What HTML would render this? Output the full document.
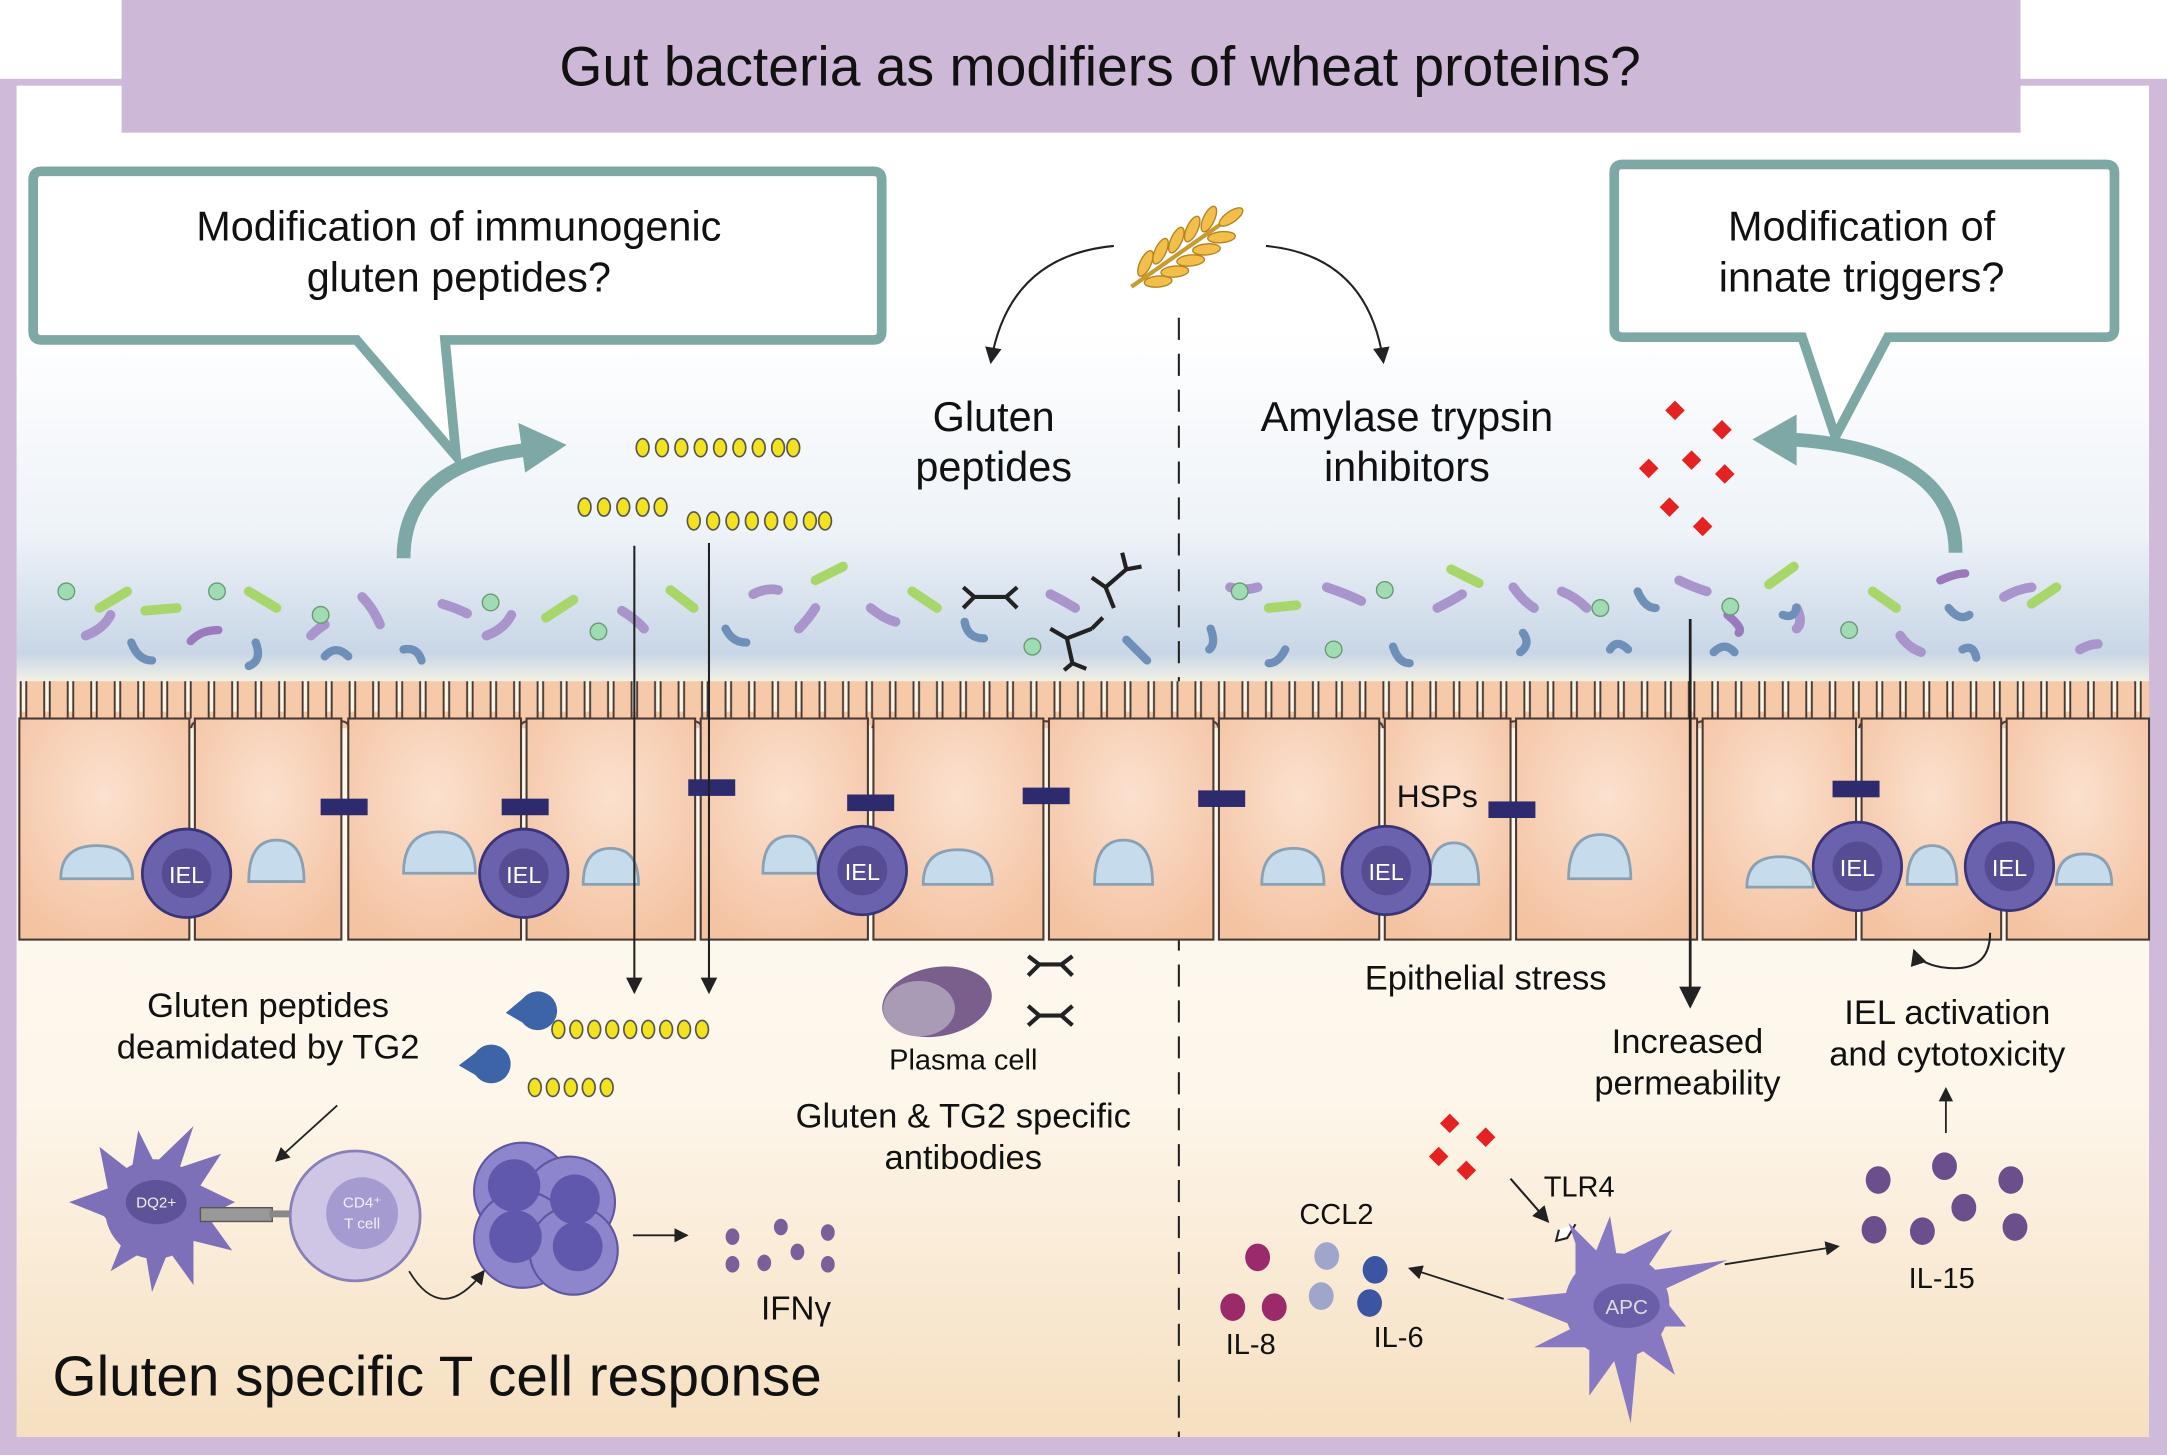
<!DOCTYPE html>
<html><head><meta charset="utf-8"><style>
html,body{margin:0;padding:0;background:#fff}
svg{display:block}
text{font-family:"Liberation Sans",sans-serif;fill:#111}
</style></head><body>
<svg width="2167" height="1455" viewBox="0 0 1568 1053" preserveAspectRatio="none" xmlns="http://www.w3.org/2000/svg">
<defs>
<linearGradient id="bg" x1="0" y1="0" x2="0" y2="1">
<stop offset="0" stop-color="#ffffff"/>
<stop offset="0.18" stop-color="#ffffff"/>
<stop offset="0.33" stop-color="#eef3f8"/>
<stop offset="0.42" stop-color="#c8d6e6"/>
<stop offset="0.445" stop-color="#fbf6e4"/>
<stop offset="0.6" stop-color="#fdf8ef"/>
<stop offset="0.75" stop-color="#fdf6ea"/>
<stop offset="1" stop-color="#f6dfc0"/>
</linearGradient>
<radialGradient id="cell" cx="0.5" cy="0.35" r="0.7">
<stop offset="0" stop-color="#fbe1cf"/><stop offset="1" stop-color="#f4c3a2"/>
</radialGradient>
<pattern id="villi" x="0" y="0" width="17" height="40" patternUnits="userSpaceOnUse">
<path d="M2 40 L2 9 Q2 2 8.5 2 Q15 2 15 9 L15 40" fill="#f6c9a9" stroke="#4a3a35" stroke-width="1.4"/>
</pattern>
<g id="bd"><ellipse cx="0" cy="0" rx="4.6" ry="6.5" fill="#f3e21e" stroke="#555" stroke-width="1.2"/></g>
<marker id="ar" markerWidth="8" markerHeight="8" refX="7" refY="4" orient="auto"><path d="M0 0 L8 4 L0 8 Z" fill="#222"/></marker>
</defs>
<rect x="0" y="0" width="1568" height="1053" fill="#ffffff"/>
<rect x="0" y="57" width="1568" height="996" fill="#cfbad9"/>
<rect x="12" y="62" width="1543" height="978" fill="url(#bg)"/>
<rect x="88" y="0" width="1374" height="96" fill="#cdb8d8"/>
<text x="796" y="62" font-size="40" text-anchor="middle">Gut bacteria as modifiers of wheat proteins?</text>

<path d="M30 124 H632 Q638 124 638 130 V240 Q638 246 632 246 H322 L330 330 L258 246 H30 Q24 246 24 240 V130 Q24 124 30 124 Z" fill="#fff" stroke="#7ea8a5" stroke-width="7"/>
<text x="332" y="174" font-size="30" text-anchor="middle">Modification of immunogenic</text>
<text x="332" y="211" font-size="30" text-anchor="middle">gluten peptides?</text>
<path d="M1174 119 H1524 Q1530 119 1530 125 V238 Q1530 244 1524 244 H1366 L1328 316 L1304 244 H1174 Q1168 244 1168 238 V125 Q1168 119 1174 119 Z" fill="#fff" stroke="#7ea8a5" stroke-width="7"/>
<text x="1347" y="174" font-size="30" text-anchor="middle">Modification of</text>
<text x="1347" y="211" font-size="30" text-anchor="middle">innate triggers?</text>
<path d="M292 404 Q292 335 385 325" fill="none" stroke="#7ea8a5" stroke-width="10"/>
<path d="M410 322 L375 306 L380 342 Z" fill="#7ea8a5"/>
<path d="M1415 400 Q1415 325 1295 318" fill="none" stroke="#7ea8a5" stroke-width="10"/>
<path d="M1268 318 L1300 300 L1300 337 Z" fill="#7ea8a5"/>

<g transform="translate(858,180) rotate(-35)">
<line x1="-48" y1="0" x2="45" y2="0" stroke="#c99a2e" stroke-width="3"/>
<g fill="#f2c04a" stroke="#b58324" stroke-width="1">
<ellipse cx="-30" cy="-8" rx="10" ry="4" transform="rotate(-30 -30 -8)"/><ellipse cx="-30" cy="8" rx="10" ry="4" transform="rotate(30 -30 8)"/>
<ellipse cx="-16" cy="-9" rx="10" ry="4" transform="rotate(-30 -16 -9)"/><ellipse cx="-16" cy="9" rx="10" ry="4" transform="rotate(30 -16 9)"/>
<ellipse cx="-2" cy="-9" rx="10" ry="4" transform="rotate(-30 -2 -9)"/><ellipse cx="-2" cy="9" rx="10" ry="4" transform="rotate(30 -2 9)"/>
<ellipse cx="12" cy="-9" rx="10" ry="4" transform="rotate(-30 12 -9)"/><ellipse cx="12" cy="9" rx="10" ry="4" transform="rotate(30 12 9)"/>
<ellipse cx="26" cy="-8" rx="10" ry="4" transform="rotate(-30 26 -8)"/><ellipse cx="26" cy="8" rx="10" ry="4" transform="rotate(30 26 8)"/>
<ellipse cx="40" cy="0" rx="10" ry="4"/>
</g></g>
<path d="M806 178 Q730 185 717 262" fill="none" stroke="#222" stroke-width="1.5" marker-end="url(#ar)"/>
<path d="M916 178 Q990 185 1001 262" fill="none" stroke="#222" stroke-width="1.5" marker-end="url(#ar)"/>
<text x="719" y="312" font-size="30" text-anchor="middle">Gluten</text>
<text x="719" y="348" font-size="30" text-anchor="middle">peptides</text>
<text x="1018" y="312" font-size="30" text-anchor="middle">Amylase trypsin</text>
<text x="1018" y="348" font-size="30" text-anchor="middle">inhibitors</text>
<line x1="853" y1="230" x2="853" y2="1040" stroke="#222" stroke-width="1.5" stroke-dasharray="16 10"/>

<g>
<use href="#bd" x="465" y="324"/><use href="#bd" x="479" y="324"/><use href="#bd" x="493" y="324"/><use href="#bd" x="507" y="324"/><use href="#bd" x="521" y="324"/><use href="#bd" x="535" y="324"/><use href="#bd" x="549" y="324"/><use href="#bd" x="563" y="324"/><use href="#bd" x="574" y="324"/>
<use href="#bd" x="423" y="367"/><use href="#bd" x="437" y="367"/><use href="#bd" x="451" y="367"/><use href="#bd" x="465" y="367"/><use href="#bd" x="478" y="367"/>
<use href="#bd" x="502" y="377"/><use href="#bd" x="516" y="377"/><use href="#bd" x="530" y="377"/><use href="#bd" x="544" y="377"/><use href="#bd" x="558" y="377"/><use href="#bd" x="572" y="377"/><use href="#bd" x="586" y="377"/><use href="#bd" x="597" y="377"/>
</g>
<g fill="#e52222">
<rect x="1207" y="292" width="10" height="10" transform="rotate(45 1212 297)"/><rect x="1241" y="306" width="10" height="10" transform="rotate(45 1246 311)"/>
<rect x="1188" y="334" width="10" height="10" transform="rotate(45 1193 339)"/><rect x="1219" y="328" width="10" height="10" transform="rotate(45 1224 333)"/><rect x="1243" y="338" width="10" height="10" transform="rotate(45 1248 343)"/>
<rect x="1203" y="362" width="10" height="10" transform="rotate(45 1208 367)"/><rect x="1227" y="376" width="10" height="10" transform="rotate(45 1232 381)"/>
</g>

<g stroke-linecap="round" fill="none">
<g stroke="#a7d66a" stroke-width="7">
<line x1="72" y1="440" x2="92" y2="428"/><line x1="105" y1="442" x2="128" y2="440"/><line x1="180" y1="428" x2="200" y2="440"/><line x1="395" y1="447" x2="415" y2="434"/><line x1="485" y1="427" x2="502" y2="440"/><line x1="660" y1="428" x2="678" y2="440"/><line x1="918" y1="440" x2="938" y2="438"/><line x1="1050" y1="412" x2="1070" y2="422"/><line x1="1280" y1="423" x2="1298" y2="410"/><line x1="1355" y1="428" x2="1372" y2="440"/><line x1="1470" y1="437" x2="1488" y2="425"/><line x1="590" y1="420" x2="610" y2="410"/>
</g>
<g stroke="#a995cc" stroke-width="7">
<path d="M62 460 Q75 455 80 445"/><path d="M262 432 Q270 440 275 452"/><path d="M352 460 Q365 455 370 445"/><path d="M545 430 Q555 425 563 427"/><path d="M578 455 Q585 448 590 440"/><path d="M630 440 Q640 448 648 450"/><path d="M760 430 Q770 435 778 440"/><path d="M890 425 Q900 428 910 425"/><path d="M960 425 Q975 430 985 435"/><path d="M1040 440 Q1050 435 1058 430"/><path d="M1095 425 Q1102 435 1110 440"/><path d="M1130 428 Q1140 432 1148 440"/><path d="M1215 420 Q1225 425 1235 428"/><path d="M1300 440 Q1305 450 1300 455"/><path d="M1375 460 Q1380 468 1390 472"/><path d="M1450 432 Q1460 426 1470 425"/><path d="M1505 470 Q1512 466 1518 466"/><path d="M320 437 Q330 440 338 444"/><path d="M450 442 Q460 448 466 455"/><path d="M225 460 Q230 455 235 452"/>
</g>
<g stroke="#6d8fb8" stroke-width="6">
<path d="M95 465 Q100 478 110 478"/><path d="M185 465 Q190 478 180 482"/><path d="M235 475 Q243 466 252 475"/><path d="M292 470 Q302 468 305 478"/><path d="M525 455 Q530 465 540 465"/><path d="M698 450 Q700 462 712 462"/><path d="M815 463 Q822 470 830 478"/><path d="M876 455 Q880 466 875 470"/><path d="M930 470 Q925 480 918 480"/><path d="M1008 468 Q1012 480 1020 480"/><path d="M1102 458 Q1108 466 1100 472"/><path d="M1185 428 Q1190 440 1198 440"/><path d="M1165 470 Q1170 462 1178 470"/><path d="M1240 472 Q1248 464 1255 472"/><path d="M1290 445 Q1298 448 1300 440"/><path d="M1410 440 Q1418 450 1425 445"/><path d="M1420 470 Q1428 466 1430 476"/>
</g>
<g stroke="#9a7abd" stroke-width="6"><path d="M138 464 Q145 456 158 456"/><path d="M1404 420 Q1415 415 1422 415"/><path d="M1250 445 Q1262 455 1258 458"/></g>
</g>
<g fill="#9fdcb1" stroke="#6a9a75" stroke-width="1">
<circle cx="48" cy="428" r="6"/><circle cx="157" cy="428" r="6"/><circle cx="232" cy="445" r="6"/><circle cx="355" cy="436" r="6"/><circle cx="433" cy="457" r="6"/><circle cx="747" cy="468" r="6"/><circle cx="897" cy="428" r="6"/><circle cx="1002" cy="427" r="6"/><circle cx="1158" cy="440" r="6"/><circle cx="1252" cy="439" r="6"/><circle cx="1338" cy="456" r="6"/><circle cx="965" cy="470" r="6"/>
</g>
<g stroke="#222" stroke-width="3" fill="none">
<path d="M697 425 L705 432 L728 432 L736 425 M697 440 L705 432 M728 432 L736 440"/>
<path d="M790 418 L800 425 L815 412 M800 425 L806 440 M815 412 L812 400 M815 412 L826 410"/>
<path d="M760 455 L772 462 L790 455 M772 462 L776 480 M790 455 L798 447 M776 480 L770 485 M776 480 L786 484"/>
<path d="M744 692 L752 698 L768 698 L776 692 M744 706 L752 698 M768 698 L776 706"/>
<path d="M744 728 L752 735 L768 735 L776 728 M744 742 L752 735 M768 735 L776 742"/>
</g>

<rect x="14" y="515" width="1541" height="10" fill="#f6c9a9"/>
<rect x="14" y="493" width="1541" height="34" fill="url(#villi)"/>
<g fill="url(#cell)" stroke="#4a3a35" stroke-width="1.5">
<rect x="14" y="520" width="123" height="160"/><rect x="141" y="520" width="106" height="160"/><rect x="252" y="520" width="125" height="160"/><rect x="381" y="520" width="122" height="160"/><rect x="507" y="520" width="121" height="160"/><rect x="632" y="520" width="123" height="160"/><rect x="759" y="520" width="119" height="160"/><rect x="882" y="520" width="116" height="160"/><rect x="1002" y="520" width="91" height="160"/><rect x="1097" y="520" width="131" height="160"/><rect x="1232" y="520" width="111" height="160"/><rect x="1347" y="520" width="101" height="160"/><rect x="1452" y="520" width="103" height="160"/>
</g>
<g fill="#c6dcec" stroke="#8aa0b3" stroke-width="2">
<path d="M44 636 Q44 612 70 612 Q96 612 96 636 Z"/><path d="M180 638 Q180 608 200 608 Q220 608 220 638 Z"/><path d="M292 632 Q292 602 318 602 Q344 602 344 632 Z"/><path d="M422 640 Q422 614 442 614 Q462 614 462 640 Z"/>
<path d="M552 632 Q552 605 572 605 Q592 605 592 632 Z"/><path d="M668 640 Q668 615 693 615 Q718 615 718 640 Z"/><path d="M792 640 Q792 608 813 608 Q834 608 834 640 Z"/><path d="M913 640 Q913 614 936 614 Q958 614 958 640 Z"/>
<path d="M1034 640 Q1034 610 1052 610 Q1070 610 1070 640 Z"/><path d="M1135 636 Q1135 604 1158 604 Q1180 604 1180 636 Z"/><path d="M1264 642 Q1264 620 1288 620 Q1312 620 1312 642 Z"/><path d="M1380 640 Q1380 612 1398 612 Q1416 612 1416 640 Z"/><path d="M1488 640 Q1488 618 1508 618 Q1528 618 1528 640 Z"/>
</g>
<g fill="#2d2a6e"><rect x="232" y="578" width="34" height="12"/><rect x="363" y="578" width="34" height="12"/><rect x="498" y="564" width="34" height="12"/><rect x="613" y="575" width="34" height="12"/><rect x="740" y="570" width="34" height="12"/><rect x="867" y="572" width="34" height="12"/><rect x="1077" y="580" width="34" height="12"/><rect x="1326" y="565" width="34" height="12"/></g>
<g>
<g transform="translate(135,632)"><circle r="32" fill="#6b62ad" stroke="#3b3378" stroke-width="2"/><circle r="18" fill="#554c93"/><text y="7" font-size="17" text-anchor="middle" style="fill:#fff">IEL</text></g>
<g transform="translate(379,632)"><circle r="32" fill="#6b62ad" stroke="#3b3378" stroke-width="2"/><circle r="18" fill="#554c93"/><text y="7" font-size="17" text-anchor="middle" style="fill:#fff">IEL</text></g>
<g transform="translate(624,630)"><circle r="32" fill="#6b62ad" stroke="#3b3378" stroke-width="2"/><circle r="18" fill="#554c93"/><text y="7" font-size="17" text-anchor="middle" style="fill:#fff">IEL</text></g>
<g transform="translate(1003,630)"><circle r="32" fill="#6b62ad" stroke="#3b3378" stroke-width="2"/><circle r="18" fill="#554c93"/><text y="7" font-size="17" text-anchor="middle" style="fill:#fff">IEL</text></g>
<g transform="translate(1344,627)"><circle r="32" fill="#6b62ad" stroke="#3b3378" stroke-width="2"/><circle r="18" fill="#554c93"/><text y="7" font-size="17" text-anchor="middle" style="fill:#fff">IEL</text></g>
<g transform="translate(1454,627)"><circle r="32" fill="#6b62ad" stroke="#3b3378" stroke-width="2"/><circle r="18" fill="#554c93"/><text y="7" font-size="17" text-anchor="middle" style="fill:#fff">IEL</text></g>
</g>
<text x="1040" y="584" font-size="23" text-anchor="middle">HSPs</text>

<line x1="459" y1="395" x2="459" y2="718" stroke="#222" stroke-width="1.5" marker-end="url(#ar)"/>
<line x1="513" y1="393" x2="513" y2="718" stroke="#222" stroke-width="1.5" marker-end="url(#ar)"/>
<line x1="1223" y1="448" x2="1223" y2="728" stroke="#222" stroke-width="2" marker-end="url(#ar)"/>
<path d="M1440 675 Q1440 705 1405 700 Q1388 697 1385 688" fill="none" stroke="#222" stroke-width="1.5" marker-end="url(#ar)"/>

<text x="194" y="736" font-size="25" text-anchor="middle">Gluten peptides</text>
<text x="194" y="766" font-size="25" text-anchor="middle">deamidated by TG2</text>
<g fill="#3e64a8"><path d="M378 723 A14 14 0 1 1 378 740 L366 733 Z"/><path d="M344 762 A14 14 0 1 1 344 778 L332 771 Z"/></g>
<g>
<use href="#bd" x="404" y="745"/><use href="#bd" x="417" y="745"/><use href="#bd" x="430" y="745"/><use href="#bd" x="443" y="745"/><use href="#bd" x="456" y="745"/><use href="#bd" x="469" y="745"/><use href="#bd" x="482" y="745"/><use href="#bd" x="495" y="745"/><use href="#bd" x="508" y="745"/>
<use href="#bd" x="387" y="787"/><use href="#bd" x="400" y="787"/><use href="#bd" x="413" y="787"/><use href="#bd" x="426" y="787"/><use href="#bd" x="439" y="787"/>
</g>
<line x1="244" y1="800" x2="200" y2="840" stroke="#222" stroke-width="1.3" marker-end="url(#ar)"/>
<g fill="#7d70b8">
<path d="M75 880 L50 870 L78 860 L72 830 L95 848 L100 818 L112 842 L140 815 L130 845 L160 835 L145 858 L170 870 L150 880 L168 905 L140 898 L140 930 L122 905 L110 935 L105 905 L80 920 L90 895 Z"/>
<circle cx="112" cy="875" r="36"/>
</g>
<ellipse cx="113" cy="870" rx="22" ry="16" fill="#5e5399"/>
<text x="113" y="874" font-size="11" text-anchor="middle" style="fill:#eee">DQ2+</text>
<rect x="145" y="874" width="52" height="10" fill="#999" stroke="#555"/>
<rect x="195" y="876" width="20" height="5" fill="#888"/>
<circle cx="257" cy="880" r="47" fill="#cfc6e6" stroke="#8a80b8" stroke-width="2"/>
<circle cx="262" cy="878" r="26" fill="#a69bd0"/>
<text x="262" y="874" font-size="11" text-anchor="middle" style="fill:#f3f0fa">CD4⁺</text>
<text x="262" y="889" font-size="11" text-anchor="middle" style="fill:#f3f0fa">T cell</text>
<g fill="#8d86cc" stroke="#5d56a0" stroke-width="1.5">
<circle cx="378" cy="862" r="35"/><circle cx="412" cy="870" r="33"/><circle cx="378" cy="897" r="35"/><circle cx="415" cy="905" r="32"/>
</g>
<g fill="#6058ad"><circle cx="372" cy="858" r="19"/><circle cx="416" cy="868" r="18"/><circle cx="373" cy="895" r="19"/><circle cx="418" cy="902" r="18"/></g>
<path d="M296 920 Q320 960 350 920" fill="none" stroke="#222" stroke-width="1.3" marker-end="url(#ar)"/>
<line x1="458" y1="894" x2="497" y2="894" stroke="#222" stroke-width="1.3" marker-end="url(#ar)"/>
<g fill="#7a5f99"><ellipse cx="530" cy="895" rx="5" ry="6"/><ellipse cx="565" cy="888" rx="5" ry="6"/><ellipse cx="599" cy="892" rx="5" ry="6"/><ellipse cx="577" cy="906" rx="5" ry="6"/><ellipse cx="530" cy="915" rx="5" ry="6"/><ellipse cx="553" cy="914" rx="5" ry="6"/><ellipse cx="599" cy="915" rx="5" ry="6"/></g>
<text x="576" y="955" font-size="24" text-anchor="middle">IFNγ</text>
<text x="38" y="1010" font-size="41">Gluten specific T cell response</text>
<ellipse cx="678" cy="725" rx="40" ry="25" fill="#7a5f8d" transform="rotate(-10 678 725)"/>
<ellipse cx="665" cy="730" rx="26" ry="20" fill="#a99bb5"/>
<text x="697" y="774" font-size="21" text-anchor="middle">Plasma cell</text>
<text x="697" y="816" font-size="25" text-anchor="middle">Gluten &amp; TG2 specific</text>
<text x="697" y="846" font-size="25" text-anchor="middle">antibodies</text>

<text x="1075" y="716" font-size="25" text-anchor="middle">Epithelial stress</text>
<text x="1221" y="762" font-size="25" text-anchor="middle">Increased</text>
<text x="1221" y="792" font-size="25" text-anchor="middle">permeability</text>
<text x="1409" y="741" font-size="25" text-anchor="middle">IEL activation</text>
<text x="1409" y="771" font-size="25" text-anchor="middle">and cytotoxicity</text>
<line x1="1408" y1="820" x2="1408" y2="788" stroke="#222" stroke-width="1.3" marker-end="url(#ar)"/>
<g fill="#e52222">
<rect x="1044" y="808" width="10" height="10" transform="rotate(45 1049 813)"/><rect x="1070" y="818" width="10" height="10" transform="rotate(45 1075 823)"/>
<rect x="1036" y="832" width="10" height="10" transform="rotate(45 1041 837)"/><rect x="1056" y="842" width="10" height="10" transform="rotate(45 1061 847)"/>
</g>
<line x1="1093" y1="853" x2="1120" y2="884" stroke="#222" stroke-width="1.5" marker-end="url(#ar)"/>
<text x="1117" y="866" font-size="21">TLR4</text>
<path d="M1128 890 L1126 898 L1134 896 L1140 886" fill="#fff" stroke="#222" stroke-width="1.5"/>
<g fill="#8778c2">
<path d="M1140 900 L1135 885 L1155 905 L1165 880 L1170 910 L1210 890 L1190 920 L1250 912 L1200 935 L1220 960 L1200 960 L1212 995 L1185 975 L1180 1030 L1168 985 L1150 1010 L1150 975 L1110 975 L1140 960 L1090 940 L1140 935 Z"/>
<circle cx="1170" cy="945" r="38"/>
</g>
<ellipse cx="1177" cy="945" rx="24" ry="16" fill="#6b5ea8"/>
<text x="1177" y="951" font-size="15" text-anchor="middle" style="fill:#ddd">APC</text>
<line x1="1088" y1="940" x2="1020" y2="918" stroke="#222" stroke-width="1.3" marker-end="url(#ar)"/>
<line x1="1248" y1="915" x2="1330" y2="902" stroke="#222" stroke-width="1.3" marker-end="url(#ar)"/>
<g fill="#9a2a6a"><ellipse cx="910" cy="910" rx="9" ry="10"/><ellipse cx="892" cy="946" rx="9" ry="10"/><ellipse cx="922" cy="946" rx="9" ry="10"/></g>
<g fill="#9fa6cc"><ellipse cx="960" cy="909" rx="9" ry="10"/><ellipse cx="956" cy="938" rx="9" ry="10"/></g>
<g fill="#3c55a3"><ellipse cx="995" cy="919" rx="9" ry="10"/><ellipse cx="991" cy="943" rx="9" ry="10"/></g>
<text x="967" y="886" font-size="21" text-anchor="middle">CCL2</text>
<text x="905" y="980" font-size="21" text-anchor="middle">IL-8</text>
<text x="1012" y="975" font-size="21" text-anchor="middle">IL-6</text>
<g fill="#6a4f8c"><ellipse cx="1359" cy="854" rx="9" ry="10"/><ellipse cx="1407" cy="844" rx="9" ry="10"/><ellipse cx="1455" cy="854" rx="9" ry="10"/><ellipse cx="1421" cy="874" rx="9" ry="10"/><ellipse cx="1356" cy="890" rx="9" ry="10"/><ellipse cx="1391" cy="891" rx="9" ry="10"/><ellipse cx="1458" cy="888" rx="9" ry="10"/></g>
<text x="1405" y="932" font-size="21" text-anchor="middle">IL-15</text>
</svg>
</body></html>
